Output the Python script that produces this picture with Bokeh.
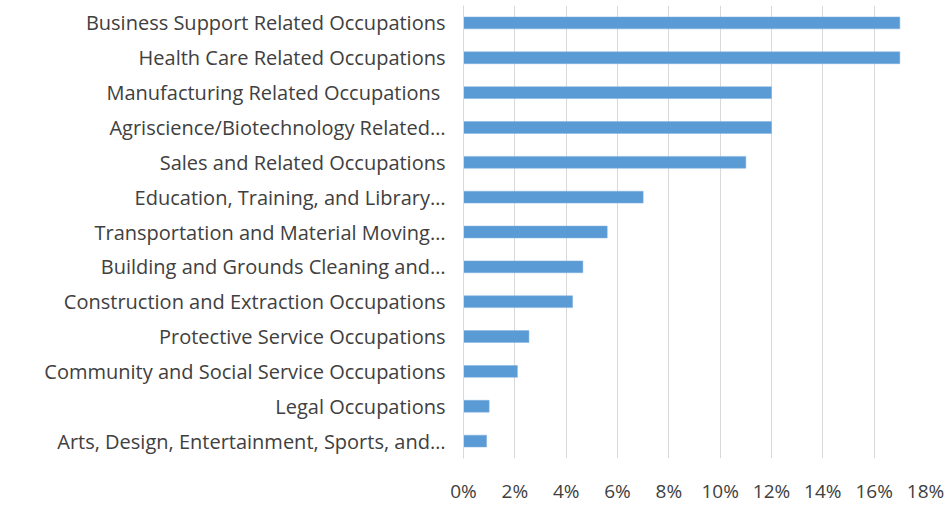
from bokeh.plotting import figure
from bokeh.models import FactorRange, NumeralTickFormatter, FixedTicker, ColumnDataSource
from bokeh.embed import file_html
from bokeh.resources import INLINE

categories = [
    "Business Support Related Occupations",
    "Health Care Related Occupations",
    "Manufacturing  Related Occupations",
    "Agriscience/Biotechnology Related…",
    "Sales and Related Occupations",
    "Education, Training, and Library…",
    "Transportation and Material Moving…",
    "Building and Grounds Cleaning and…",
    "Construction and Extraction Occupations",
    "Protective Service Occupations",
    "Community and Social Service Occupations",
    "Legal Occupations",
    "Arts, Design, Entertainment, Sports, and…",
]
shares = [0.17, 0.17, 0.12, 0.12, 0.11, 0.07, 0.056, 0.0465, 0.0425, 0.0255, 0.021, 0.010, 0.009]
x_ticks = [0, 0.02, 0.04, 0.06, 0.08, 0.10, 0.12, 0.14, 0.16, 0.18]

src = ColumnDataSource(dict(cat=categories, val=shares))

p = figure(
    width=946, height=506,
    y_range=FactorRange(*list(reversed(categories)), range_padding=0),
    x_range=(0, 0.18),
    output_backend="svg", toolbar_location=None,
    min_border_left=463, min_border_right=21, min_border_top=5, min_border_bottom=41,
)
p.hbar(y="cat", right="val", left=0, height=0.34, source=src,
       fill_color="#5B9BD5", line_color="#7fb0e0", line_width=0.5)

p.outline_line_color = None
p.ygrid.grid_line_color = None
p.xgrid.grid_line_color = "#d9d9d9"
p.xgrid.grid_line_width = 1
p.xaxis.ticker = FixedTicker(ticks=x_ticks)
p.xaxis.formatter = NumeralTickFormatter(format="0%")
p.xaxis.axis_line_color = None
p.xaxis.major_tick_line_color = None
p.xaxis.minor_tick_line_color = None
p.xaxis.major_label_text_font = "Open Sans"
p.xaxis.major_label_text_font_size = "19px"
p.xaxis.major_label_text_color = "#404040"
p.xaxis.major_label_standoff = 13

p.yaxis.axis_line_color = "#d9d9d9"
p.yaxis.major_tick_line_color = None
p.yaxis.minor_tick_line_color = None
p.yaxis.major_label_text_font = "Open Sans"
p.yaxis.major_label_text_font_size = "20px"
p.yaxis.major_label_text_color = "#404040"
p.yaxis.major_label_standoff = 12

open("out.html", "w").write(file_html(p, INLINE))
